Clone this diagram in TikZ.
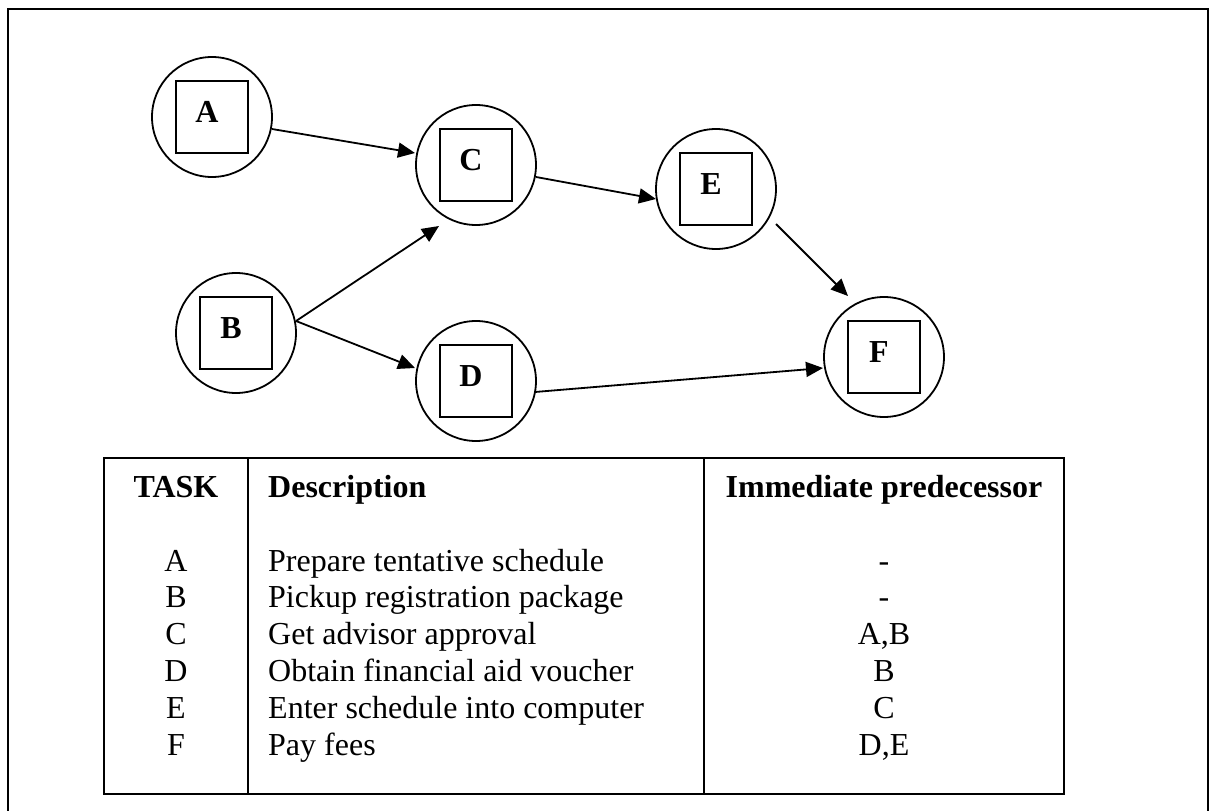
\documentclass[tikz,border=0pt]{standalone}
\usepackage{fontspec}
\setmainfont{Liberation Serif}
\usetikzlibrary{arrows.meta,calc}

\tikzset{
  taskcirc/.style={circle, draw, line width=1.8pt, minimum size=120pt, inner sep=0pt},
  taskbox/.style={rectangle, draw, line width=2.4pt, minimum size=72pt, inner sep=0pt},
  tasklabel/.style={inner sep=0pt, font=\fontsize{32}{38}\selectfont\bfseries},
  flow/.style={line width=1.8pt, -{Triangle[length=17pt,width=15pt]}},
  frameline/.style={line width=2.6pt},
  rule/.style={line width=2.4pt},
  head/.style={inner sep=0pt, anchor=base, font=\fontsize{32}{38}\selectfont\bfseries},
  cell/.style={inner sep=0pt, anchor=base, font=\fontsize{32}{38}\selectfont},
}

\begin{document}
\begin{tikzpicture}[x=1pt, y=-1pt]
  \useasboundingbox (0,0) rectangle (1213,811);
  \clip (0,0) rectangle (1213,811);

  % outer frame (runs on past the lower edge)
  \draw[frameline] (8,9) rectangle (1208,840);

  % activity network
  \foreach \n/\px/\py in {A/212/117, B/236/333, C/476/165, D/476/381, E/716/189, F/884/357}{
    \node[taskcirc] (\n) at (\px,\py) {};
    \node[taskbox] (\n-box) at (\n) {};
    \node[tasklabel] (\n-lab) at ($(\n)+(-5,-5)$) {\n};
  }

  \draw[flow] ($(A)+(60,12)$) -- ($(C)+(-61,-12)$);
  \draw[flow] ($(B)+(60,-12)$) -- ($(C)+(-37,61)$);
  \draw[flow] ($(B)+(60,-12)$) -- ($(D)+(-61,-13)$);
  \draw[flow] ($(C)+(60,12)$) -- ($(E)+(-60,10)$);
  \draw[flow] ($(E)+(60,35)$) -- ($(F)+(-36,-61)$);
  \draw[flow] ($(D)+(59,11)$) -- ($(F)+(-61,11)$);

  % task table
  \draw[rule] (104,458) rectangle (1064,794);
  \draw[rule] (248,458) -- (248,794);
  \draw[rule] (704,458) -- (704,794);

  \node[head] (h-task) at (176,497) {TASK};
  \node[head, anchor=base west] (h-desc) at (268,497) {Description};
  \node[head] (h-pred) at (884,497) {Immediate predecessor};

  \foreach \t/\d/\p [count=\i from 0] in {
      A/Prepare tentative schedule/-,
      B/Pickup registration package/-,
      C/Get advisor approval/{A,B},
      D/Obtain financial aid voucher/B,
      E/Enter schedule into computer/C,
      F/Pay fees/{D,E}}{
    \pgfmathsetmacro{\yb}{571+36.8*\i}
    \node[cell] (t-\t) at (176,\yb) {\t};
    \node[cell, anchor=base west] (d-\t) at (268,\yb) {\d};
    \node[cell] (p-\t) at (884,\yb) {\p};
  }
\end{tikzpicture}
\end{document}
